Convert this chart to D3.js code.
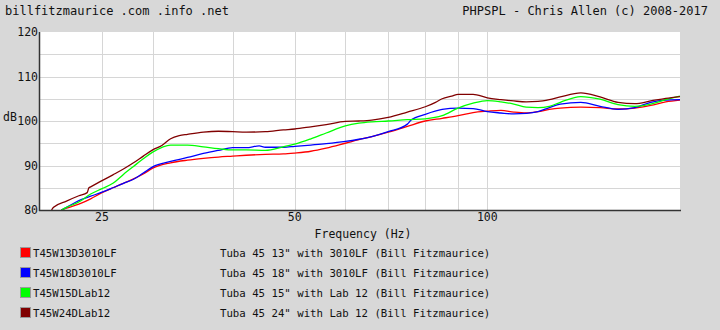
<!DOCTYPE html>
<html><head><meta charset="utf-8">
<script src="https://cdn.jsdelivr.net/npm/d3@7"></script>
<style>
html,body{margin:0;padding:0;background:#d8d8d8;}
svg{display:block;}
text{font-family:"DejaVu Sans Mono",monospace;fill:#111;}
</style></head>
<body>
<svg id="chart" width="720" height="330"></svg>
<script>
// ---- data ----
const redFreq   = [21.6,22,23,24,25,26,27,28,29,30,32,34,36,38,40,42,45,48,50,53,56,60,63,66,70,75,80,85,90,95,100,105,110,115,120,125,130,140,150,160,170,180,190,200];
const redDb     = [80,80.4,81.3,82.5,83.9,85.0,86.0,87.0,88.1,89.4,90.6,91.2,91.6,91.9,92.1,92.3,92.5,92.6,92.8,93.2,93.9,95.0,95.8,96.5,97.5,98.8,100.0,100.6,101.2,101.9,102.2,102.4,102.0,101.8,102.1,102.6,102.9,103.1,103.0,102.7,102.9,103.5,104.3,104.7];

const blueFreq  = [21.6,22,23,24,25,26,27,28,29,30,32,34,36,38,40,42,44,45,48,50,53,56,60,63,66,70,75,76,80,85,90,95,100,105,110,115,120,125,130,140,150,160,170,180,190,200];
const blueDb    = [80,80.6,82.1,83.1,84.0,85.0,86.0,86.9,88.3,89.7,90.9,91.8,92.7,93.4,94.0,94.0,94.4,94.1,94.1,94.3,94.6,94.9,95.4,95.9,96.5,97.6,99.3,100.2,101.5,102.6,102.9,102.8,102.1,101.8,101.6,101.7,102.1,103.0,103.8,104.2,103.3,102.6,103.0,104.2,104.7,104.8];

const greenFreq = [21.6,22,23,24,25,26,27,28,29,30,32,34,36,38,40,42,45,48,50,53,56,60,63,66,70,75,80,85,90,95,100,105,110,115,120,125,130,140,150,160,170,180,190,200];
const greenDb   = [80,80.6,81.8,83.6,84.8,86.0,88.0,89.8,91.5,93.0,94.6,94.6,94.2,93.8,93.5,93.5,93.4,94.2,94.8,96.0,97.3,98.9,99.5,99.8,100.0,100.3,100.5,101.2,102.9,104.0,104.6,104.3,103.8,103.1,103.0,103.3,104.2,105.5,104.9,103.7,103.3,103.8,104.8,105.6];

const brownFreq = [20.85,21,22,23,23.7,23.85,24,25,26,27,28,29,30,31,32,33,34,36,38,40,42,45,48,50,53,56,60,63,66,70,75,80,83,85,88,90,95,100,105,110,115,120,125,130,140,150,160,170,180,190,200];
const brownDb   = [80.0,80.6,82.0,83.2,83.9,85.0,85.2,86.6,87.9,89.2,90.6,92.1,93.5,94.5,96.0,96.7,97.0,97.5,97.7,97.6,97.5,97.6,98.0,98.2,98.7,99.2,99.9,100.0,100.2,100.8,102.0,103.2,104.2,105.0,105.6,106.0,106.0,105.2,104.8,104.5,104.3,104.4,104.8,105.4,106.3,105.4,104.2,103.9,104.5,105.1,105.5];

const seriesNames = ["T45W13D3010LF","T45W18D3010LF","T45W15DLab12","T45W24DLab12"];
const seriesDescs = ['Tuba 45 13" with 3010LF (Bill Fitzmaurice)','Tuba 45 18" with 3010LF (Bill Fitzmaurice)','Tuba 45 15" with Lab 12 (Bill Fitzmaurice)','Tuba 45 24" with Lab 12 (Bill Fitzmaurice)'];
const seriesColors = ["#ff0000","#0000ff","#00ff00","#800000"];

const xGridVals = [25,30,40,50,60,70,80,90,100];
const xTickLabels = [25,50,100];
const yGridVals = [85,90,95,100,105,110,115];
const yTickLabels = [80,90,100,110,120];

const titleLeft = "billfitzmaurice .com .info .net";
const titleRight = "PHPSPL - Chris Allen (c) 2008-2017";
const xAxisTitle = "Frequency (Hz)";
const yAxisTitle = "dB";

// ---- layout ----
const L = 40, R = 680, T = 32, B = 210;
const svg = d3.select("#chart");
const x = d3.scaleLog().domain([20,200]).range([L,R]);
const y = d3.scaleLinear().domain([80,120]).range([B,T]);

svg.append("rect").attr("width",720).attr("height",330).attr("fill","#d8d8d8");
svg.append("rect").attr("x",L).attr("y",T).attr("width",R-L).attr("height",B-T).attr("fill","#fff");

svg.append("defs").append("clipPath").attr("id","clip")
  .append("rect").attr("x",L).attr("y",T).attr("width",R-L+2).attr("height",B-T);

// grid
const g = svg.append("g").attr("shape-rendering","crispEdges");
g.selectAll(".vg").data(xGridVals).join("line")
  .attr("x1",d=>Math.round(x(d))+0.5).attr("x2",d=>Math.round(x(d))+0.5)
  .attr("y1",T).attr("y2",B).attr("stroke","#d6d6d6").attr("stroke-width",1.2);
g.selectAll(".hg").data(yGridVals).join("line")
  .attr("x1",L).attr("x2",R)
  .attr("y1",d=>Math.round(y(d))+0.5).attr("y2",d=>Math.round(y(d))+0.5)
  .attr("stroke","#d6d6d6").attr("stroke-width",1.2);

// series
const allSeries = [
  {f:redFreq, v:redDb},
  {f:blueFreq, v:blueDb},
  {f:greenFreq, v:greenDb},
  {f:brownFreq, v:brownDb}
];
const line = d3.line().x(d=>x(d[0])).y(d=>y(d[1])).curve(d3.curveMonotoneX);
const lg = svg.append("g").attr("clip-path","url(#clip)");
allSeries.forEach((s,i)=>{
  const pts = s.f.map((f,j)=>[f,s.v[j]]);
  lg.append("path").attr("d",line(pts)).attr("fill","none")
    .attr("stroke",seriesColors[i]).attr("stroke-width",1.3);
});

// axes lines
svg.append("line").attr("x1",L-0.5).attr("x2",L-0.5).attr("y1",T).attr("y2",B+1)
  .attr("stroke","#333").attr("stroke-width",1.5);
svg.append("line").attr("x1",L-1).attr("x2",R+1).attr("y1",B+0.5).attr("y2",B+0.5)
  .attr("stroke","#333").attr("stroke-width",1.5);

// tick labels
svg.selectAll(".yl").data(yTickLabels).join("text")
  .attr("x",38).attr("y",d=>y(d)+4).attr("text-anchor","end")
  .attr("font-size",11.5).text(d=>d);
svg.selectAll(".xl").data(xTickLabels).join("text")
  .attr("x",d=>x(d)).attr("y",221).attr("text-anchor","middle")
  .attr("font-size",11.5).text(d=>d);

svg.append("text").attr("x",3).attr("y",121).attr("font-size",11.5).text(yAxisTitle);
svg.append("text").attr("x",363).attr("y",238).attr("text-anchor","middle").attr("font-size",11.5).text(xAxisTitle);

// titles
svg.append("text").attr("x",5).attr("y",15).attr("font-size",12).text(titleLeft);
svg.append("text").attr("x",708).attr("y",15).attr("text-anchor","end").attr("font-size",12).text(titleRight);

// legend
seriesNames.forEach((n,i)=>{
  const yy = 247 + i*20;
  svg.append("rect").attr("x",20.5).attr("y",yy+0.5).attr("width",10).attr("height",10)
    .attr("fill",seriesColors[i]).attr("stroke","#999").attr("stroke-width",1);
  svg.append("text").attr("x",33).attr("y",yy+10).attr("font-size",10.7).text(n);
  svg.append("text").attr("x",220).attr("y",yy+10).attr("font-size",10.7).text(seriesDescs[i]);
});
</script>
</body></html>
